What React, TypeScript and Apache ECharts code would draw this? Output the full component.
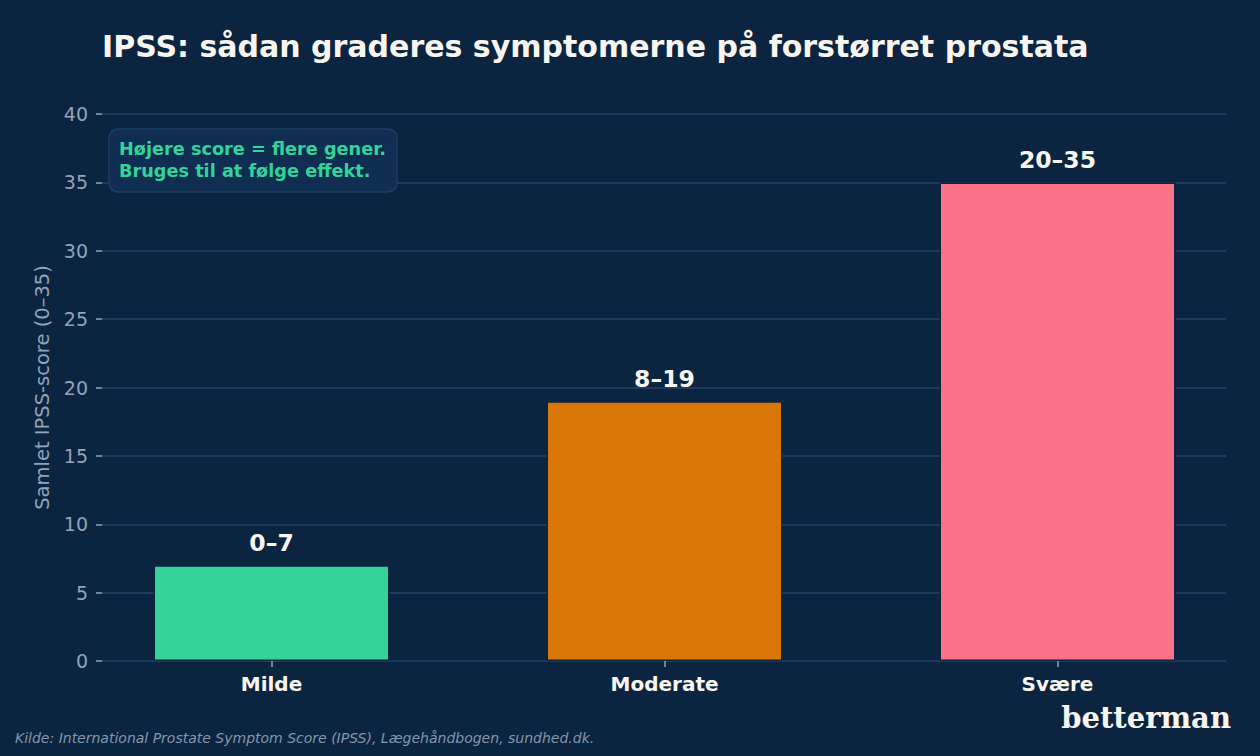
import React, { useEffect, useRef } from "react";
import * as echarts from "echarts";

// IPSS severity bands
const categories = ["Milde", "Moderate", "Svære"];
const upperScores = [7, 19, 35];
const rangeLabels = ["0–7", "8–19", "20–35"];
const barColors = ["#34d399", "#d97706", "#fb7185"];

const yMin = 0;
const yMax = 40;
const yInterval = 5;

const titleText = "IPSS: sådan graderes symptomerne på forstørret prostata";
const yAxisTitle = "Samlet IPSS-score (0–35)";
const noteLines = ["Højere score = flere gener.", "Bruges til at følge effekt."];
const sourceText = "Kilde: International Prostate Symptom Score (IPSS), Lægehåndbogen, sundhed.dk.";
const brandText = "betterman";

const BG = "#0b2540";
const GRID = "#1d3a5f";
const MUTED = "#94a3b8";
const CREAM = "#f8f5f0";
const FONT = "DejaVu Sans";

export default function App() {
  const ref = useRef<HTMLDivElement>(null);

  useEffect(() => {
    if (!ref.current) return;
    const chart = echarts.init(ref.current, undefined, { renderer: "svg" });

    const plotTop = 114;
    const plotBottom = 95;

    chart.setOption({
      animation: false,
      backgroundColor: BG,
      textStyle: { fontFamily: FONT },
      title: {
        text: titleText,
        left: 97,
        top: 26,
        textStyle: { color: CREAM, fontSize: 30, fontWeight: "bold", fontFamily: FONT },
      },
      grid: [
        // value grid: y axis, ticks and horizontal gridlines
        { left: 102, right: 34, top: plotTop, bottom: plotBottom },
        // category grid for the bars
        { left: 75, right: 6, top: plotTop, bottom: plotBottom },
      ],
      xAxis: [
        { gridIndex: 0, type: "value", show: false, min: 0, max: 1 },
        {
          gridIndex: 1,
          type: "category",
          data: categories,
          axisLine: { show: false },
          axisTick: { show: true, alignWithLabel: true, length: 6, lineStyle: { color: MUTED, width: 1.5 } },
          axisLabel: { color: CREAM, fontSize: 20, fontWeight: "bold", fontFamily: FONT, margin: 13 },
          splitLine: { show: false },
        },
      ],
      yAxis: [
        {
          gridIndex: 0,
          type: "value",
          min: yMin,
          max: yMax,
          interval: yInterval,
          name: yAxisTitle,
          nameLocation: "middle",
          nameGap: 50,
          nameTextStyle: { color: MUTED, fontSize: 19.5, fontFamily: FONT },
          axisLine: { show: false },
          axisTick: { show: true, length: 6, lineStyle: { color: MUTED, width: 1.5 } },
          axisLabel: { color: MUTED, fontSize: 19, fontFamily: FONT, margin: 14 },
          splitLine: { show: true, lineStyle: { color: GRID, width: 1.8 } },
        },
        {
          gridIndex: 1,
          type: "value",
          min: yMin,
          max: yMax,
          interval: yInterval,
          show: false,
          splitLine: { show: false },
        },
      ],
      series: [
        {
          type: "bar",
          xAxisIndex: 1,
          yAxisIndex: 1,
          barWidth: 236,
          data: upperScores.map((v, i) => ({
            value: v,
            itemStyle: { color: barColors[i], borderColor: BG, borderWidth: 1.5 },
          })),
          label: {
            show: true,
            position: "top",
            distance: 10,
            formatter: (p: any) => rangeLabels[p.dataIndex],
            color: CREAM,
            fontSize: 23.5,
            fontWeight: "bold",
            fontFamily: FONT,
          },
          z: 3,
        },
      ],
      graphic: [
        {
          type: "rect",
          shape: { x: 109, y: 129, width: 288, height: 63, r: 9 },
          style: { fill: "#0f2e52", stroke: "#1f3d63", lineWidth: 1.5 },
          z: 10,
        },
        {
          type: "text",
          x: 119,
          y: 149,
          style: {
            text: noteLines[0],
            fill: "#34d399",
            font: `bold 17.7px '${FONT}'`,
            textVerticalAlign: "middle",
          },
          z: 11,
        },
        {
          type: "text",
          x: 119,
          y: 171,
          style: {
            text: noteLines[1],
            fill: "#34d399",
            font: `bold 17.7px '${FONT}'`,
            textVerticalAlign: "middle",
          },
          z: 11,
        },
        {
          type: "text",
          x: 15,
          y: 738,
          style: {
            text: sourceText,
            fill: "#8596ad",
            font: `italic 14px '${FONT}'`,
            textVerticalAlign: "middle",
          },
        },
        {
          type: "text",
          x: 1231,
          y: 718,
          style: {
            text: brandText,
            fill: CREAM,
            font: `bold 29px 'DejaVu Serif'`,
            textAlign: "right",
            textVerticalAlign: "middle",
          },
        },
      ],
    });

    return () => chart.dispose();
  }, []);

  return (
    <div
      ref={ref}
      style={{ position: "fixed", left: 0, top: 0, width: 1260, height: 756 }}
    />
  );
}
